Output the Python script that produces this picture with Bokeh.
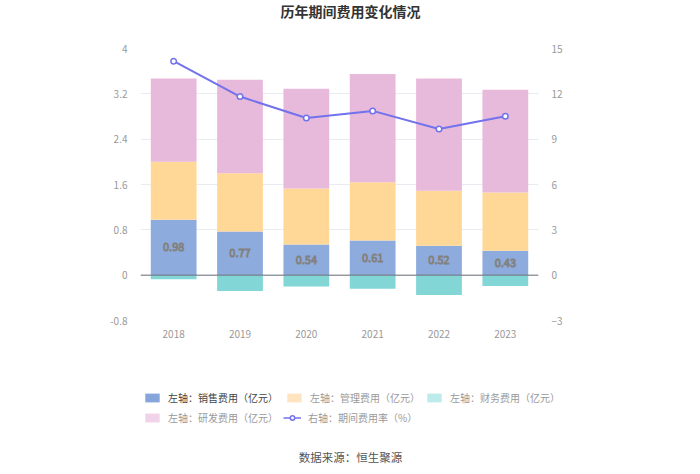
from bokeh.plotting import figure
from bokeh.layouts import column
from bokeh.models import (Range1d, LinearAxis, FixedTicker, ColumnDataSource, Legend, LegendItem,
                          Label, Span)
from bokeh.core.properties import value
from bokeh.embed import file_html
from bokeh.resources import INLINE

years = ["2018", "2019", "2020", "2021", "2022", "2023"]
sales = [0.98, 0.77, 0.54, 0.61, 0.52, 0.43]
mgmt = [1.02, 1.03, 0.99, 1.03, 0.97, 1.03]
finance = [-0.07, -0.28, -0.20, -0.24, -0.35, -0.19]
rnd = [1.47, 1.65, 1.76, 1.91, 1.98, 1.81]
rate = [14.16, 11.82, 10.40, 10.87, 9.67, 10.51]

left_ticks = [-0.8, 0, 0.8, 1.6, 2.4, 3.2, 4]
left_labels = ["-0.8", "0", "0.8", "1.6", "2.4", "3.2", "4"]
right_ticks = [-3, 0, 3, 6, 9, 12, 15]

series_names = ["左轴：销售费用（亿元）", "左轴：管理费用（亿元）", "左轴：财务费用（亿元）",
                "左轴：研发费用（亿元）", "右轴：期间费用率（%）"]
title_text = "历年期间费用变化情况"
source_text = "数据来源：恒生聚源"

C_SALES = "#8DABDD"
C_MGMT = "#FFD898"
C_FIN = "#82D6D6"
C_RND = "#E7B9DA"
C_RATE = "#7272EC"
FONT = "Noto Sans CJK SC"


def blank(h):
    f = figure(width=700, height=h, output_backend="svg", toolbar_location=None,
               x_range=Range1d(0, 1), y_range=Range1d(0, 1),
               min_border=0, x_axis_type=None, y_axis_type=None)
    f.outline_line_color = None
    f.xgrid.visible = False
    f.ygrid.visible = False
    f.frame_align = False
    return f


# ---- header with title
head = blank(30)
head.add_layout(Label(x=350, y=20, x_units="screen", y_units="screen", text=title_text,
                      text_align="center", text_baseline="middle", text_font=FONT,
                      text_font_size="14px", text_font_style="bold", text_color="#333333"))

# ---- main chart
src = ColumnDataSource(dict(
    year=years, sales=sales, mgmt=mgmt, finance=finance, rnd=rnd, rate=rate,
    zero=[0] * len(years),
    sales_mid=[s / 2 for s in sales],
    sales_lbl=["%.2f" % s for s in sales],
))

p = figure(x_range=years, y_range=Range1d(-0.8, 4), width=700, height=310,
           output_backend="svg", toolbar_location=None,
           min_border_left=140, min_border_right=162, min_border_top=18, min_border_bottom=20)
p.outline_line_color = None
p.frame_align = False
p.extra_y_ranges = {"rate": Range1d(-3, 15)}

W = 0.69
rs = p.vbar_stack(["sales", "mgmt", "rnd"], x="year", width=W, source=src,
                  color=[C_SALES, C_MGMT, C_RND], line_color=None)
rf = p.vbar(x="year", top="zero", bottom="finance", width=W, source=src,
            color=C_FIN, line_color=None)

p.add_layout(Span(location=0, dimension="width", line_color="#6E7079", line_width=1))

rl = p.line(x="year", y="rate", source=src, y_range_name="rate", line_color=C_RATE, line_width=2)
rc = p.scatter(x="year", y="rate", source=src, y_range_name="rate", size=5.5,
               fill_color="white", line_color=C_RATE, line_width=1.5)

p.text(x="year", y="sales_mid", text="sales_lbl", source=src, text_align="center",
       text_baseline="middle", text_font=value(FONT), text_font_size="11px",
       text_color="white", text_outline_color="#808080")

p.xaxis.axis_line_color = None
p.xaxis.major_tick_line_color = None
p.xaxis.minor_tick_line_color = None
p.xaxis.major_label_text_color = "#999999"
p.xaxis.major_label_text_font = FONT
p.xaxis.major_label_text_font_size = "10px"
p.xaxis.major_label_standoff = 3

p.yaxis.ticker = FixedTicker(ticks=left_ticks)
p.yaxis.major_label_overrides = {t: l for t, l in zip(left_ticks, left_labels)}
ax2 = LinearAxis(y_range_name="rate", ticker=FixedTicker(ticks=right_ticks))
p.add_layout(ax2, "right")
for ax in [p.yaxis[0], ax2]:
    ax.axis_line_color = None
    ax.major_tick_line_color = None
    ax.minor_tick_line_color = None
    ax.major_label_text_color = "#999999"
    ax.major_label_text_font = FONT
    ax.major_label_text_font_size = "10px"
    ax.major_label_standoff = 7

p.xgrid.grid_line_color = None
p.ygrid.ticker = FixedTicker(ticks=left_ticks)
p.ygrid.grid_line_color = "#E8EBF0"

# ---- footer with legend and source
# legend proxies: one point each, placed outside the footer's visible range
foot = blank(134)
proxy = ColumnDataSource(dict(x=[-5.0], y=[-5.0]))
g_sales = foot.vbar(x="x", top="y", width=1, source=proxy, color="#86A5DA", line_color=None)
g_mgmt = foot.vbar(x="x", top="y", width=1, source=proxy, color="#FFE4C0", line_color=None)
g_fin = foot.vbar(x="x", top="y", width=1, source=proxy, color="#BDEAEA", line_color=None)
g_rnd = foot.vbar(x="x", top="y", width=1, source=proxy, color="#F0D3E8", line_color=None)
g_line = foot.line(x="x", y="y", source=proxy, line_color=C_RATE, line_width=1.5)
g_dot = foot.scatter(x="x", y="y", source=proxy, size=8, fill_color="white",
                     line_color=C_RATE, line_width=1.5)


def mk_legend(label, renderers, x, y, color):
    lg = Legend(items=[LegendItem(label=label, renderers=renderers)], location=(x, y),
                orientation="horizontal", padding=0, margin=0, spacing=0,
                glyph_width=18, glyph_height=11, label_height=12, label_standoff=7,
                label_text_font=FONT, label_text_font_size="10px", label_text_color=color,
                background_fill_alpha=0, border_line_color=None)
    foot.add_layout(lg, "center")


mk_legend(series_names[0], [g_sales], 143, 69, "#444444")
mk_legend(series_names[1], [g_mgmt], 285, 69, "#999999")
mk_legend(series_names[2], [g_fin], 425, 69, "#999999")
mk_legend(series_names[3], [g_rnd], 143, 49, "#999999")
mk_legend(series_names[4], [g_line, g_dot], 283, 49, "#999999")

foot.add_layout(Label(x=350, y=18, x_units="screen", y_units="screen", text=source_text,
                      text_align="center", text_baseline="middle", text_font=FONT,
                      text_font_size="11.5px", text_color="#555555"))

layout = column(head, p, foot, spacing=0)
open("out.html", "w").write(file_html(layout, INLINE))
